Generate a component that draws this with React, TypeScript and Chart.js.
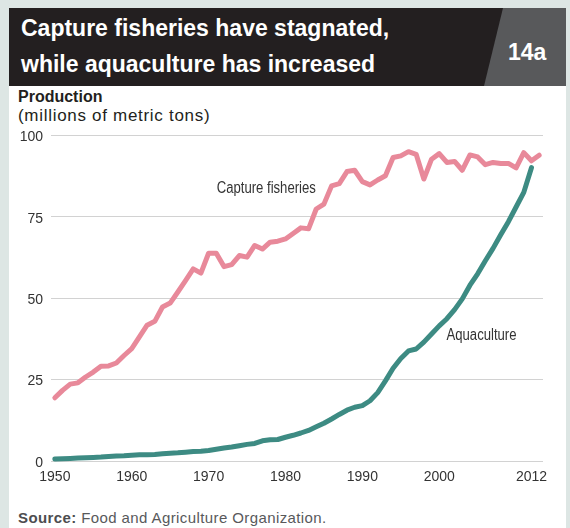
import React, { useEffect, useRef } from "react";
import { Chart, registerables } from "chart.js";

Chart.register(...registerables);

const years: number[] = Array.from({ length: 64 }, (_, i) => 1950 + i);

// Capture fisheries, 1950-2013 (millions of metric tons)
const captureFisheries: number[] = [
  19.4, 21.7, 23.6, 24.0, 25.8, 27.3, 29.1, 29.2, 30.1, 32.4,
  34.5, 38.1, 41.7, 42.9, 47.3, 48.5, 51.9, 55.4, 59.0, 57.7,
  63.8, 63.8, 59.7, 60.3, 63.1, 62.6, 66.2, 65.1, 67.2, 67.5,
  68.2, 69.9, 71.6, 71.3, 77.4, 78.9, 84.5, 85.2, 88.9, 89.3,
  85.8, 84.8, 86.3, 87.6, 93.2, 93.7, 95.0, 94.2, 86.6, 92.7,
  94.4, 91.7, 92.0, 89.3, 94.0, 93.4, 91.0, 91.7, 91.4, 91.4,
  90.0, 94.7, 92.2, 93.9,
];

// Aquaculture, 1950-2012 (millions of metric tons)
const aquaculture: number[] = [
  0.6, 0.7, 0.8, 0.9, 1.0, 1.1, 1.2, 1.4, 1.5, 1.6,
  1.8, 1.9, 1.9, 2.0, 2.2, 2.4, 2.5, 2.7, 2.9, 3.0,
  3.2, 3.6, 4.0, 4.3, 4.7, 5.1, 5.4, 6.2, 6.5, 6.6,
  7.3, 7.9, 8.6, 9.4, 10.5, 11.6, 12.9, 14.3, 15.6, 16.5,
  17.0, 18.5, 21.0, 24.6, 28.5, 31.5, 33.8, 34.4, 36.5, 39.0,
  41.5, 43.7, 46.5, 49.8, 54.0, 57.5, 61.5, 65.3, 69.5, 73.5,
  78.0, 82.5, 90.1,
];

const xTicks: number[] = [1950, 1960, 1970, 1980, 1990, 2000, 2012];
const yTicks: number[] = [0, 25, 50, 75, 100];

const seriesLabels = ["Capture fisheries", "Aquaculture"];
const seriesColors = ["#e8899a", "#3d8b83"];
// label anchors in data space (year, value)
const labelAnchors = [
  { x: 1977.5, y: 83.7 },
  { x: 2005.5, y: 38.6 },
];

const SANS = "'Liberation Sans', Arial, sans-serif";

const seriesLabelPlugin = {
  id: "seriesLabels",
  afterDatasetsDraw(chart: any) {
    const { ctx, scales } = chart;
    seriesLabels.forEach((t, i) => {
      const a = labelAnchors[i];
      const px = scales.x.getPixelForValue(a.x);
      const py = scales.y.getPixelForValue(a.y);
      ctx.save();
      ctx.translate(px, py);
      ctx.scale(0.82, 1);
      ctx.font = `16px ${SANS}`;
      ctx.fillStyle = "#333333";
      ctx.textAlign = "center";
      ctx.textBaseline = "middle";
      ctx.fillText(t, 0, 0);
      ctx.restore();
    });
  },
};

export default function App() {
  const canvasRef = useRef<HTMLCanvasElement | null>(null);

  useEffect(() => {
    const canvas = canvasRef.current;
    if (!canvas) return;
    const chart = new Chart(canvas, {
      type: "line",
      data: {
        datasets: [
          {
            label: seriesLabels[0],
            data: captureFisheries.map((v, i) => ({ x: years[i], y: v })),
            borderColor: seriesColors[0],
            borderWidth: 5,
            pointRadius: 0,
            tension: 0,
            borderJoinStyle: "round",
            borderCapStyle: "round",
            clip: false as any,
          },
          {
            label: seriesLabels[1],
            data: aquaculture.map((v, i) => ({ x: years[i], y: v })),
            borderColor: seriesColors[1],
            borderWidth: 5,
            pointRadius: 0,
            tension: 0,
            borderJoinStyle: "round",
            borderCapStyle: "round",
            clip: false as any,
          },
        ],
      },
      options: {
        responsive: false,
        animation: false,
        devicePixelRatio: 1,
        layout: { padding: { top: 10, right: 23, left: 0, bottom: 0 } },
        plugins: {
          legend: { display: false },
          tooltip: { enabled: false },
          title: { display: false },
        },
        scales: {
          x: {
            type: "linear",
            min: 1949.5,
            max: 2013.5,
            afterBuildTicks: (scale: any) => {
              scale.ticks = xTicks.map((v) => ({ value: v }));
            },
            afterFit: (scale: any) => {
              scale.height = 24;
            },
            grid: { display: false, drawTicks: false },
            border: { display: false },
            ticks: {
              autoSkip: false,
              maxRotation: 0,
              padding: 8,
              color: "#333333",
              font: { family: SANS, size: 14 },
              callback: (v: any) => String(v),
            },
          },
          y: {
            type: "linear",
            min: 0,
            max: 100,
            afterBuildTicks: (scale: any) => {
              scale.ticks = yTicks.map((v) => ({ value: v }));
            },
            afterFit: (scale: any) => {
              scale.width = 42;
            },
            grid: { color: "#d2d2d2", lineWidth: 1, drawTicks: false },
            border: { display: false },
            ticks: {
              padding: 8,
              labelOffset: 2,
              color: "#333333",
              font: { family: SANS, size: 14 },
              callback: (v: any) => String(v),
            },
          },
        },
      },
      plugins: [seriesLabelPlugin],
    } as any);
    return () => chart.destroy();
  }, []);

  const textBase: React.CSSProperties = { position: "absolute", whiteSpace: "nowrap" };

  return (
    <div
      style={{
        position: "fixed",
        left: 0,
        top: 0,
        width: 570,
        height: 528,
        background: "#dde6e4",
        overflow: "hidden",
      }}
    >
      <div
        style={{
          position: "absolute",
          left: 9,
          top: 8,
          width: 557,
          height: 520,
          background: "#ffffff",
        }}
      />
      {/* header band */}
      <div
        style={{
          position: "absolute",
          left: 9,
          top: 8,
          width: 557,
          height: 78,
          background: "#231f20",
        }}
      />
      <div
        style={{
          position: "absolute",
          left: 484,
          top: 8,
          width: 82,
          height: 78,
          background: "#58595b",
          clipPath: "polygon(19px 0, 100% 0, 100% 100%, 0 100%)",
        }}
      />
      <div
        style={{
          ...textBase,
          left: 21,
          top: 17,
          font: `bold 23px/23px ${SANS}`,
          color: "#ffffff",
        }}
      >
        Capture fisheries have stagnated,
      </div>
      <div
        style={{
          ...textBase,
          left: 21,
          top: 53,
          font: `bold 23px/23px ${SANS}`,
          color: "#ffffff",
        }}
      >
        while aquaculture has increased
      </div>
      <div
        style={{
          ...textBase,
          left: 508,
          top: 41,
          font: `bold 23px/23px ${SANS}`,
          color: "#ffffff",
        }}
      >
        14a
      </div>
      <div
        style={{
          ...textBase,
          left: 18,
          top: 89,
          font: `bold 16px/16px ${SANS}`,
          color: "#231f20",
        }}
      >
        Production
      </div>
      <div
        style={{
          ...textBase,
          left: 18,
          top: 107,
          font: `17px/17px ${SANS}`,
          letterSpacing: "0.7px",
          color: "#231f20",
        }}
      >
        (millions of metric tons)
      </div>
      <canvas
        ref={canvasRef}
        width={557}
        height={366}
        style={{ position: "absolute", left: 9, top: 119, width: 557, height: 366 }}
      />
      <div
        style={{
          ...textBase,
          left: 18,
          top: 510,
          font: `15px/15px ${SANS}`,
          letterSpacing: "0.4px",
          color: "#58595b",
        }}
      >
        <b style={{ color: "#4d4d4f" }}>Source:</b> Food and Agriculture Organization.
      </div>
    </div>
  );
}
